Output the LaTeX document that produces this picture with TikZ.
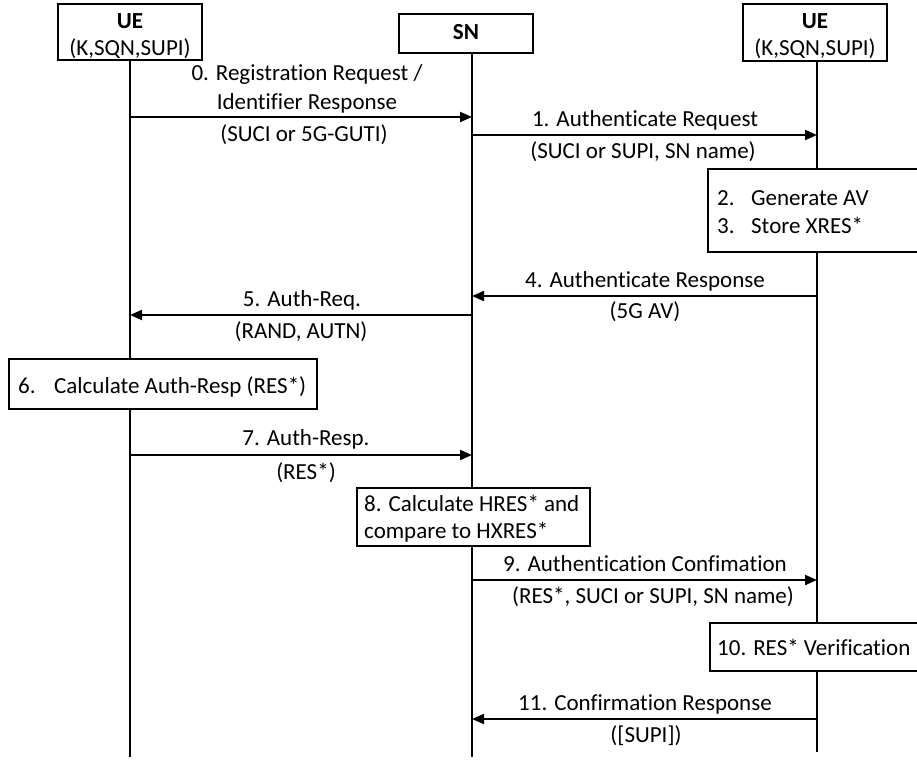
\documentclass[tikz,border=0pt]{standalone}
\usepackage{fontspec}
\setmainfont{Carlito}[Ligatures={NoCommon,NoContextual}]
\usetikzlibrary{arrows.meta}
\begin{document}
\begin{tikzpicture}[x=1pt,y=-1pt,
  every node/.style={font=\fontsize{23}{28}\selectfont},
  box/.style={draw,fill=white,line width=2pt,inner sep=0pt},
  lbl/.style={inner sep=0pt,anchor=base},
  ltxt/.style={inner sep=0pt,anchor=base west},
  life/.style={line width=2pt},
  msg/.style={line width=2pt,-{Triangle[length=12pt,width=10pt]}}]
\useasboundingbox (0,0) rectangle (917,760);
\clip (0,0) rectangle (917,760);
% lifeline ends
\coordinate (lTop) at (130,60);  \coordinate (lBot) at (130,757);
\coordinate (sTop) at (472,53);  \coordinate (sBot) at (472,757);
\coordinate (rTop) at (817,61);  \coordinate (rBot) at (817,752);
\draw[life] (lTop) -- (lBot);
\draw[life] (sTop) -- (sBot);
\draw[life] (rTop) -- (rBot);
% header boxes
\node[box,minimum width=144pt,minimum height=56pt] (ueL) at (130,32) {};
\node[box,minimum width=134pt,minimum height=39pt] (sn) at (466,33.5) {};
\node[box,minimum width=144pt,minimum height=57pt] (ueR) at (815,32.5) {};
\node[lbl,font=\fontsize{23}{28}\selectfont\bfseries] (ueLn) at (130,29) {UE};
\node[lbl] (ueLk) at (130,56) {(K,SQN,SUPI)};
\node[lbl,font=\fontsize{23}{28}\selectfont\bfseries] (snn) at (466,40) {SN};
\node[lbl,font=\fontsize{23}{28}\selectfont\bfseries] (ueRn) at (815,29) {UE};
\node[lbl] (ueRk) at (815,56) {(K,SQN,SUPI)};
% action boxes
\node[box,minimum width=217pt,minimum height=83pt] (b23) at (816.5,210.5) {};
\node[ltxt] (t2) at (717,205) {\makebox[34pt][l]{2.}Generate AV};
\node[ltxt] (t3) at (717,233) {\makebox[34pt][l]{3.}Store XRES*};
\node[box,minimum width=308pt,minimum height=50pt] (b6) at (163,384) {};
\node[ltxt] (t6) at (18,393) {\makebox[36pt][l]{6.}Calculate Auth-Resp (RES*)};
\node[box,minimum width=233pt,minimum height=58pt] (b8) at (473.5,517) {};
\node[ltxt] (t8a) at (364,511) {8. Calculate HRES* and};
\node[ltxt] (t8b) at (364,538) {compare to HXRES*};
\node[box,minimum width=215pt,minimum height=48pt] (b10) at (817.5,647) {};
\node[ltxt] (t10) at (717,655) {10. RES* Verification};
% message endpoints
\coordinate (m0a) at (130,117); \coordinate (m0b) at (472,117);
\coordinate (m1a) at (472,135); \coordinate (m1b) at (817,135);
\coordinate (m4a) at (817,296); \coordinate (m4b) at (472,296);
\coordinate (m5a) at (472,315); \coordinate (m5b) at (130,315);
\coordinate (m7a) at (130,455); \coordinate (m7b) at (472,455);
\coordinate (m9a) at (472,580); \coordinate (m9b) at (817,580);
\coordinate (m11a) at (817,719); \coordinate (m11b) at (472,719);
\draw[msg] (m0a) -- (m0b);
\draw[msg] (m1a) -- (m1b);
\draw[msg] (m4a) -- (m4b);
\draw[msg] (m5a) -- (m5b);
\draw[msg] (m7a) -- (m7b);
\draw[msg] (m9a) -- (m9b);
\draw[msg] (m11a) -- (m11b);
% message labels
\node[lbl] (l0a) at (307,81) {0. Registration Request /};
\node[lbl] (l0b) at (307,109) {Identifier Response};
\node[lbl] (l0c) at (304,141) {(SUCI or 5G-GUTI)};
\node[lbl] (l1a) at (645,126) {1. Authenticate Request};
\node[lbl] (l1b) at (643,158) {(SUCI or SUPI, SN name)};
\node[lbl] (l4a) at (645,287) {4. Authenticate Response};
\node[lbl] (l4b) at (645,318) {(5G AV)};
\node[lbl] (l5a) at (302,306) {5. Auth-Req.};
\node[lbl] (l5b) at (301,338) {(RAND, AUTN)};
\node[lbl] (l7a) at (306,445) {7. Auth-Resp.};
\node[lbl] (l7b) at (306,479) {(RES*)};
\node[lbl] (l9a) at (645,571) {9. Authentication Confimation};
\node[lbl] (l9b) at (653,603) {(RES*, SUCI or SUPI, SN name)};
\node[lbl] (l11a) at (645,710) {11. Confirmation Response};
\node[lbl] (l11b) at (646,742) {([SUPI])};
\end{tikzpicture}
\end{document}
